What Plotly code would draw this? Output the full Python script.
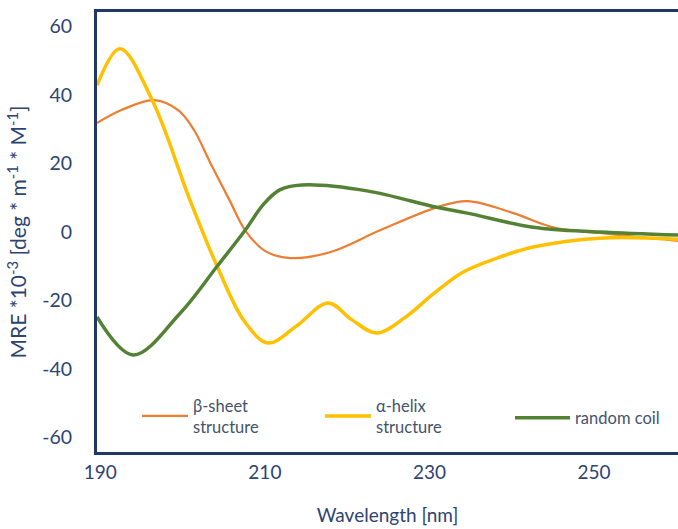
import plotly.graph_objects as go

# β-sheet structure
beta_nm = [189.6, 192.5, 196.5, 199.5, 201.4, 203.4, 205.7, 207.6, 210.0, 213.1, 217.9, 224.0, 230.9, 234.6, 240.2, 245.0, 250.7, 260.2]
beta_val = [31.8, 35.5, 38.5, 35.5, 29.7, 20.0, 9.3, 0.5, -5.5, -7.6, -5.9, 0.5, 7.2, 9.0, 5.5, 1.4, -0.3, -2.6]

# α-helix structure
alpha_nm = [189.6, 192.4, 196.3, 200.9, 204.2, 207.5, 210.4, 213.8, 217.7, 220.5, 223.6, 227.0, 230.5, 234.0, 238.2, 242.6, 250.7, 260.2]
alpha_val = [42.8, 53.5, 38.5, 9.3, -10.0, -26.0, -32.4, -27.5, -20.7, -25.5, -29.5, -25.0, -18.0, -11.8, -7.6, -4.4, -1.8, -2.1]

# random coil
coil_nm = [189.6, 194.0, 199.7, 204.2, 207.6, 209.8, 211.8, 214.5, 222.4, 230.9, 234.6, 242.6, 250.7, 260.2]
coil_val = [-24.8, -35.9, -23.7, -10.0, 0.5, 8.0, 12.3, 13.7, 12.0, 7.2, 5.5, 1.4, 0.0, -0.9]

x_ticks = [190, 210, 230, 250]
y_ticks = [-60, -40, -20, 0, 20, 40, 60]
y_tick_text = ["-60", "-40", "-20", "0", "20", "40", "60"]

NAVY = "#203864"
TEXT = "#2E4470"
LEG = "#44546A"
FONT = "Lato, 'Open Sans', sans-serif"

fig = go.Figure()
fig.add_trace(go.Scatter(x=beta_nm, y=beta_val, mode="lines", name="β-sheet<br>structure",
                         line=dict(color="#ED7D31", width=2.2, shape="spline", smoothing=1.0),
                         legend="legend", showlegend=True))
fig.add_trace(go.Scatter(x=alpha_nm, y=alpha_val, mode="lines", name="α-helix<br>structure",
                         line=dict(color="#FFC000", width=3.5, shape="spline", smoothing=1.0),
                         legend="legend2", showlegend=True))
fig.add_trace(go.Scatter(x=coil_nm, y=coil_val, mode="lines", name="random coil",
                         line=dict(color="#548235", width=3.5, shape="spline", smoothing=1.0),
                         legend="legend3", showlegend=True))

leg_common = dict(font=dict(family=FONT, size=16.5, color=LEG), bgcolor="rgba(0,0,0,0)",
                  yanchor="middle", xanchor="left", borderwidth=0)

fig.update_layout(
    width=678, height=529,
    showlegend=True,
    margin=dict(l=97, r=0, t=12, b=77),
    paper_bgcolor="white", plot_bgcolor="white",
    font=dict(family=FONT, color=TEXT),
    legend=dict(x=(137 - 97) / 581, y=(452 - 416) / 440, itemwidth=46, **leg_common),
    legend2=dict(x=(320 - 97) / 581, y=(452 - 416) / 440, itemwidth=46, **leg_common),
    legend3=dict(x=(510 - 97) / 581, y=(452 - 418) / 440, itemwidth=55, **leg_common),
    xaxis=dict(range=[189.6, 260.2], tickvals=x_ticks, showgrid=False, zeroline=False,
               showline=True, mirror=True, linecolor=NAVY, linewidth=3,
               ticks="outside", ticklen=1, tickcolor="rgba(0,0,0,0)",
               tickfont=dict(family=FONT, size=19, color=TEXT),
               title=dict(text="Wavelength [nm]", font=dict(family=FONT, size=19, color=TEXT), standoff=27)),
    yaxis=dict(range=[-64.2, 64.2], tickvals=y_ticks, ticktext=y_tick_text, showgrid=False, zeroline=False,
               showline=True, linecolor=NAVY, linewidth=3,
               ticks="outside", ticklen=18, tickcolor="rgba(0,0,0,0)",
               tickfont=dict(family=FONT, size=19.5, color=TEXT),
               title=dict(text="MRE *10<sup>-3</sup> [deg * m<sup>-1</sup> * M<sup>-1</sup>]",
                          font=dict(family=FONT, size=21, color=TEXT), standoff=10)),
)

fig.write_html("out.html")
